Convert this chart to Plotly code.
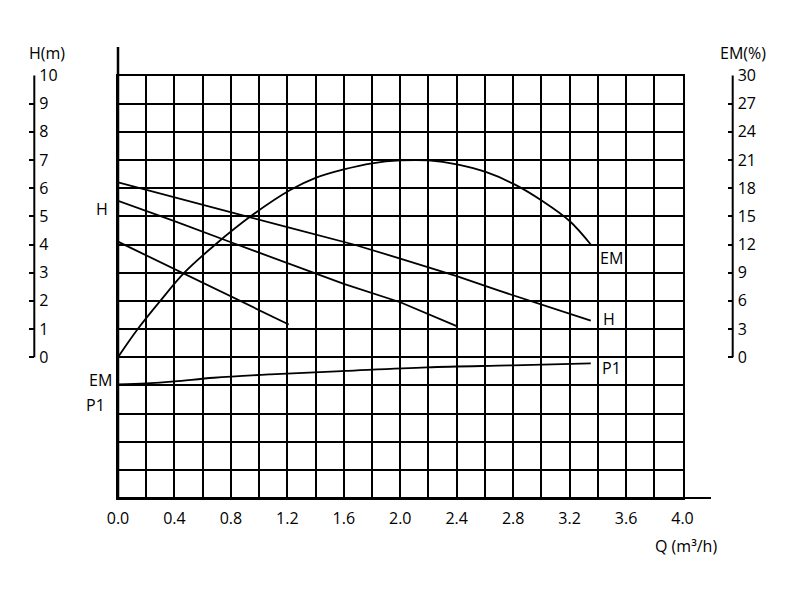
import plotly.graph_objects as go

# pump curves
q_h1 = [0, 0.2, 0.4, 0.91, 1.2, 1.67, 2.0, 2.4, 2.7, 3.0, 3.35]
h_h1 = [6.21, 5.94, 5.68, 5.0, 4.62, 4.0, 3.5, 2.88, 2.36, 1.88, 1.3]

q_h2 = [0, 0.4, 0.8, 1.2, 1.6, 2.0, 2.4]
h_h2 = [5.55, 4.83, 4.08, 3.33, 2.6, 1.95, 1.1]

q_h3 = [0, 0.4, 0.8, 1.21]
h_h3 = [4.1, 3.12, 2.16, 1.16]

q_em = [0, 0.14, 0.3, 0.47, 0.69, 0.94, 1.22, 1.4, 1.6, 1.8, 2.0, 2.2, 2.41, 2.61, 2.81,
        3.01, 3.2, 3.35]
em = [0, 3, 6, 9, 12, 15, 17.8, 19.1, 20.0, 20.65, 20.95, 20.95, 20.5, 19.7, 18.4,
      16.6, 14.5, 12.0]

q_p1 = [0, 0.2, 0.4, 0.68, 1.08, 1.6, 2.19, 2.8, 3.35]
p1 = [-0.97, -0.93, -0.86, -0.73, -0.61, -0.49, -0.36, -0.29, -0.22]

h_ticks = list(range(0, 11))
em_ticks = list(range(0, 31, 3))

W, H = 800, 600
OFF = 8  # page margin around the plot div
FONT = "Open Sans"

def px(x):
    return (x - OFF) / W

def py(y):
    return 1 - (y - OFF) / H

line = dict(color="black", width=1.8)

fig = go.Figure()
for q, h in [(q_h1, h_h1), (q_h2, h_h2), (q_h3, h_h3)]:
    fig.add_trace(go.Scatter(x=q, y=h, mode="lines", line=line,
                             showlegend=False, hoverinfo="skip"))
fig.add_trace(go.Scatter(x=q_em, y=em, mode="lines",
                         line=dict(line, shape="spline", smoothing=1.0),
                         yaxis="y3", showlegend=False, hoverinfo="skip"))
fig.add_trace(go.Scatter(x=q_p1, y=p1, mode="lines", line=dict(line, shape="spline"),
                         showlegend=False, hoverinfo="skip"))
# keeps the left H scale drawn
fig.add_trace(go.Scatter(x=[None], y=[None], yaxis="y2", showlegend=False, hoverinfo="skip"))

grid = dict(showgrid=True, gridcolor="black", gridwidth=2)
side_axis = dict(overlaying="y", anchor="free", side="right", ticks="inside", ticklen=5,
                 tickwidth=2, tickcolor="black", showline=False, showgrid=False,
                 zeroline=False, ticklabelstandoff=4,
                 tickfont=dict(size=16, color="black", family=FONT))

fig.update_layout(
    width=W, height=H,
    margin=dict(l=0, r=0, t=0, b=0, autoexpand=False),
    paper_bgcolor="white", plot_bgcolor="white",
    font=dict(family=FONT, size=16, color="black"),
    xaxis=dict(domain=[px(118), px(682.5)], range=[0, 4], dtick=0.4, tickformat=".1f",
               minor=dict(dtick=0.2, **grid), ticks="", showline=True, mirror=True,
               linecolor="black", linewidth=2, zeroline=False, ticklabelstandoff=5,
               tickfont=dict(size=16, color="black"), **grid),
    yaxis=dict(domain=[py(498), py(75.5)], range=[-5, 10], dtick=1, showticklabels=False,
               ticks="", showline=True, mirror=True, linecolor="black", linewidth=2,
               zeroline=False, **grid),
    yaxis2=dict(range=[-5, 10], tickvals=h_ticks, position=px(34.3), **side_axis),
    yaxis3=dict(range=[-15, 30], tickvals=em_ticks, position=px(732.7), **side_axis),
)

# axis lines: extensions beyond the grid and the two side scales
for x0, x1, y0, y1, w in [(118, 711, 498, 498, 2), (118, 118, 498, 47, 2.5),
                          (34.3, 34.3, 357.2, 75.5, 2), (732.7, 732.7, 357.2, 75.5, 2)]:
    fig.add_shape(type="line", xref="paper", yref="paper", x0=px(x0), x1=px(x1),
                  y0=py(y0), y1=py(y1), line=dict(color="black", width=w))

labels = [
    ("H(m)", 46.7, 53), ("EM(%)", 742.5, 53), ("Q (m³/h)", 686, 546),
    ("H", 102, 209), ("EM", 100.8, 380), ("P1", 95.5, 405),
    ("EM", 611, 258), ("H", 608.7, 319), ("P1", 611, 368),
]
for text, x, y in labels:
    fig.add_annotation(text=text, x=px(x), y=py(y), xref="paper", yref="paper",
                       showarrow=False, xanchor="center", yanchor="middle",
                       font=dict(size=16, color="black", family=FONT))

fig.write_html("out.html")
